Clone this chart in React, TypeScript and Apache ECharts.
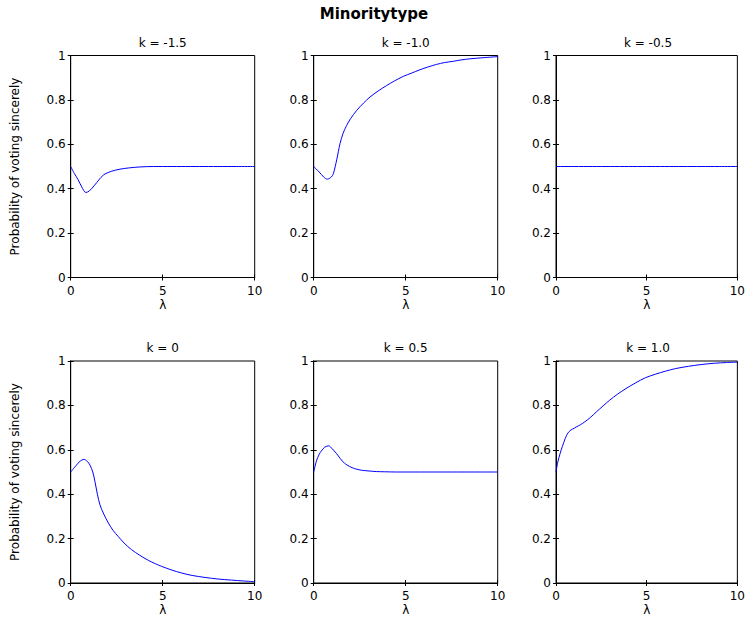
import React, { useEffect, useRef } from "react";
import * as echarts from "echarts";

const mainTitle = "Minoritytype";
const panelTitles = ["k = -1.5", "k = -1.0", "k = -0.5", "k = 0", "k = 0.5", "k = 1.0"];
const yAxisTitle = "Probability of voting sincerely";
const xAxisTitle = "λ";
const xTicks = [0, 5, 10];
const yTicks = [0, 0.2, 0.4, 0.6, 0.8, 1];

const lamA = [0, 0.2, 0.4, 0.6, 0.82, 1.0, 1.3, 1.77, 2.2, 2.68, 3.2, 3.77, 4.5, 5, 6, 7, 8, 9, 10];
const valA = [0.5, 0.468, 0.441, 0.408, 0.383, 0.389, 0.416, 0.461, 0.478, 0.488, 0.494, 0.498, 0.5, 0.5, 0.5, 0.5, 0.5, 0.5, 0.5];

const lamB = [0, 0.3, 0.55, 0.74, 0.95, 1.07, 1.25, 1.43, 1.6, 1.79, 2.0, 2.34, 2.7, 3.06, 3.5, 3.97, 4.4, 4.87, 5.3, 5.78, 6.2, 6.68, 7.1, 7.59, 8.0, 8.49, 9.2, 10];
const valB = [0.5, 0.475, 0.452, 0.443, 0.452, 0.468, 0.53, 0.603, 0.65, 0.685, 0.715, 0.753, 0.785, 0.813, 0.84, 0.865, 0.886, 0.906, 0.92, 0.936, 0.948, 0.96, 0.968, 0.974, 0.98, 0.985, 0.99, 0.995];

const lamC = [0, 1, 2, 3, 4, 5, 6, 7, 8, 9, 10];
const valC = [0.5, 0.5, 0.5, 0.5, 0.5, 0.5, 0.5, 0.5, 0.5, 0.5, 0.5];

const lamD = [0, 0.3, 0.5, 0.72, 0.9, 1.05, 1.2, 1.32, 1.45, 1.59, 1.8, 2.05, 2.3, 2.59, 2.9, 3.31, 3.75, 4.22, 4.6, 4.94, 5.5, 6.03, 6.6, 7.3, 8.0, 8.75, 9.4, 10];
const valD = [0.5, 0.53, 0.548, 0.557, 0.548, 0.531, 0.5, 0.456, 0.4, 0.352, 0.31, 0.27, 0.237, 0.209, 0.18, 0.15, 0.125, 0.102, 0.087, 0.075, 0.058, 0.045, 0.034, 0.025, 0.018, 0.013, 0.009, 0.006];

const lamE = [0, 0.15, 0.3, 0.42, 0.6, 0.82, 1.0, 1.23, 1.45, 1.68, 1.95, 2.23, 2.6, 2.95, 3.4, 3.86, 4.5, 5, 6, 7, 8, 9, 10];
const valE = [0.5, 0.55, 0.58, 0.595, 0.612, 0.618, 0.605, 0.584, 0.56, 0.539, 0.525, 0.515, 0.508, 0.505, 0.502, 0.501, 0.5, 0.5, 0.5, 0.5, 0.5, 0.5, 0.5];

const lamF = [0, 0.1, 0.23, 0.35, 0.51, 0.65, 0.82, 1.0, 1.14, 1.35, 1.59, 1.9, 2.23, 2.6, 2.95, 3.4, 3.86, 4.4, 4.94, 5.5, 6.03, 6.6, 7.3, 8.0, 8.75, 9.4, 10];
const valF = [0.5, 0.545, 0.584, 0.615, 0.651, 0.675, 0.689, 0.697, 0.704, 0.713, 0.726, 0.746, 0.771, 0.798, 0.823, 0.851, 0.876, 0.902, 0.925, 0.941, 0.954, 0.966, 0.976, 0.984, 0.99, 0.993, 0.995];

const panels = [
  [lamA, valA],
  [lamB, valB],
  [lamC, valC],
  [lamD, valD],
  [lamE, valE],
  [lamF, valF],
];

const FONT = "'DejaVu Sans', 'Liberation Sans', Arial, sans-serif";

export default function App() {
  const ref = useRef<HTMLDivElement>(null);
  useEffect(() => {
    if (!ref.current) return;
    const chart = echarts.init(ref.current, undefined, { renderer: "svg" });
    const lefts = [70.7, 313.7, 556];
    const tops = [55.5, 361];
    const W = 184;
    const H = 222;
    const grids: any[] = [];
    const xAxes: any[] = [];
    const yAxes: any[] = [];
    const series: any[] = [];
    const graphics: any[] = [];
    panels.forEach((p, i) => {
      const col = i % 3;
      const row = Math.floor(i / 3);
      const left = lefts[col];
      const top = tops[row];
      grids.push({
        left,
        top,
        width: W,
        height: H,
        show: true,
        borderColor: "#000",
        borderWidth: 1,
        backgroundColor: "#fff",
        containLabel: false,
      });
      const common = {
        type: "value",
        gridIndex: i,
        splitLine: { show: false },
        axisLine: { show: true, lineStyle: { color: "#000", width: 1 } },
        axisTick: { show: true, inside: true, length: 3, lineStyle: { color: "#000" } },
      };
      xAxes.push({
        ...common,
        position: "bottom",
        min: xTicks[0],
        max: xTicks[xTicks.length - 1],
        interval: 5,
        axisLabel: { show: true, color: "#000", fontSize: 12, fontFamily: FONT, margin: 7 },
        name: xAxisTitle,
        nameLocation: "middle",
        nameGap: 21,
        nameTextStyle: { color: "#000", fontSize: 12, fontFamily: FONT },
      });
      xAxes.push({
        ...common,
        position: "top",
        min: xTicks[0],
        max: xTicks[xTicks.length - 1],
        interval: 5,
        axisLabel: { show: false },
      });
      yAxes.push({
        ...common,
        position: "left",
        min: yTicks[0],
        max: yTicks[yTicks.length - 1],
        interval: 0.2,
        axisLabel: { show: true, color: "#000", fontSize: 12, fontFamily: FONT, margin: 5 },
      });
      yAxes.push({
        ...common,
        position: "right",
        min: yTicks[0],
        max: yTicks[yTicks.length - 1],
        interval: 0.2,
        axisLabel: { show: false },
      });
      series.push({
        type: "line",
        xAxisIndex: 2 * i,
        yAxisIndex: 2 * i,
        data: p[0].map((x, j) => [x, p[1][j]]),
        showSymbol: false,
        symbol: "none",
        smooth: 0.3,
        lineStyle: { color: "#0000ff", width: 1 },
        itemStyle: { color: "#0000ff" },
      });
      graphics.push({
        type: "text",
        x: left + W / 2,
        y: top - 13,
        style: {
          text: panelTitles[i],
          font: `12px ${FONT}`,
          fill: "#000",
          align: "center",
          verticalAlign: "middle",
          textAlign: "center",
          textVerticalAlign: "middle",
        },
      });
    });
    tops.forEach((t) => {
      graphics.push({
        type: "text",
        x: 15,
        y: t + H / 2,
        rotation: Math.PI / 2,
        style: {
          text: yAxisTitle,
          font: `12px ${FONT}`,
          fill: "#000",
          align: "center",
          verticalAlign: "middle",
          textAlign: "center",
          textVerticalAlign: "middle",
        },
      });
    });
    graphics.push({
      type: "text",
      x: 374,
      y: 14,
      style: {
        text: mainTitle,
        font: `bold 15px ${FONT}`,
        fill: "#000",
        align: "center",
        verticalAlign: "middle",
        textAlign: "center",
        textVerticalAlign: "middle",
      },
    });
    chart.setOption({
      animation: false,
      backgroundColor: "#fff",
      grid: grids,
      xAxis: xAxes,
      yAxis: yAxes,
      series,
      graphic: graphics,
    });
    return () => chart.dispose();
  }, []);
  return (
    <div
      ref={ref}
      style={{ position: "absolute", left: 0, top: 0, width: 748, height: 621 }}
    />
  );
}
